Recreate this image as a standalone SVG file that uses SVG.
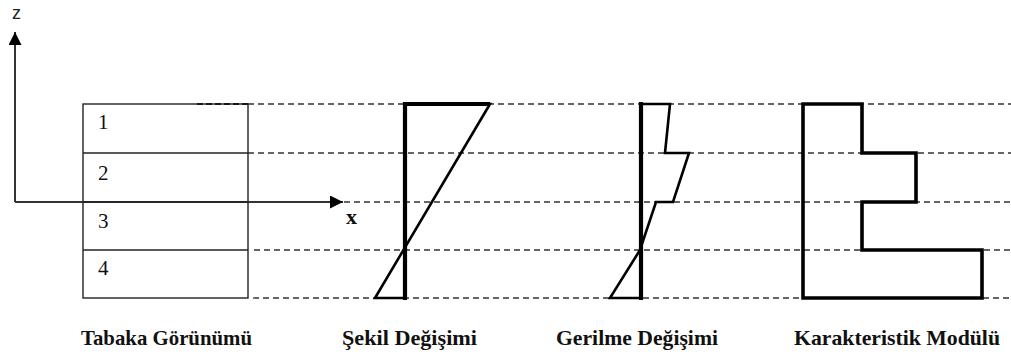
<svg xmlns="http://www.w3.org/2000/svg" width="1011" height="358" viewBox="0 0 1011 358">
<defs>
<style>
.dash{stroke:#333;stroke-width:1.3;stroke-dasharray:6 4;fill:none}
.box{stroke:#222;stroke-width:1.4;fill:none}
.axis{stroke:#333;stroke-width:2;fill:none}
.shape{stroke:#000;stroke-width:2.6;fill:none;stroke-linejoin:miter}
.thick{stroke:#000;stroke-width:4.2;fill:none}
.num{font-family:"Liberation Serif","Times New Roman",serif;font-size:21px;fill:#111}
.lbl{font-family:"Liberation Serif","Times New Roman",serif;font-size:21px;font-weight:bold;fill:#111}
.ax{font-family:"Liberation Sans",Arial,sans-serif;font-size:18px;fill:#222}
</style>
<marker id="ah" viewBox="0 0 10 10" refX="10" refY="5" markerWidth="13" markerHeight="13" markerUnits="userSpaceOnUse" orient="auto">
<path d="M0,0 L10,5 L0,10 Z" fill="#000"/>
</marker>
</defs>
<g id="connectors">
<line class="dash" x1="248" y1="104" x2="1011" y2="104"/>
<line stroke="#000" stroke-width="2.2" stroke-dasharray="6 3" x1="197" y1="104" x2="248" y2="104"/>
<line class="dash" x1="248" y1="153" x2="1011" y2="153"/>
<line class="dash" x1="344" y1="202" x2="1011" y2="202"/>
<line class="dash" x1="254" y1="250" x2="1011" y2="250"/>
<line class="dash" x1="253" y1="298" x2="1011" y2="298"/>
<line class="axis" x1="15" y1="202" x2="15" y2="32" marker-end="url(#ah)"/>
<line class="axis" x1="15" y1="202" x2="343" y2="202" marker-end="url(#ah)"/>
</g>
<g id="axis-labels">
<text class="ax" x="12" y="19">z</text>
<text class="num" x="346" y="224" style="font-weight:bold;font-size:22px">x</text>
</g>
<g id="tabaka">
<rect class="box" x="83" y="104" width="165" height="194"/>
<line class="box" x1="83" y1="153" x2="248" y2="153"/>
<line class="box" x1="83" y1="202" x2="248" y2="202"/>
<line class="box" x1="83" y1="250" x2="248" y2="250"/>
<text class="num" x="98" y="129">1</text>
<text class="num" x="98" y="180">2</text>
<text class="num" x="98" y="228">3</text>
<text class="num" x="98" y="275">4</text>
</g>
<g id="sekil">
<polygon class="shape" points="405,104 490,104 375,298 405,298"/>
<line class="thick" x1="405" y1="102" x2="405" y2="300"/>
<line class="thick" x1="405" y1="104" x2="490" y2="104"/>
</g>
<g id="gerilme">
<polyline class="shape" points="640,104 670,104 665,153 689,153 673,202 656,202 640,250 610,298 640,298"/>
<line class="thick" x1="641" y1="102" x2="641" y2="300"/>
</g>
<g id="karakteristik">
<polygon class="shape" style="stroke-width:3.6" points="803,104 862,104 862,153 916,153 916,202 862,202 862,250 982,250 982,298 803,298"/>
</g>
<g id="labels">
<text class="lbl" x="81" y="345" textLength="171" lengthAdjust="spacingAndGlyphs">Tabaka Görünümü</text>
<text class="lbl" x="342" y="345" textLength="135" lengthAdjust="spacingAndGlyphs">Şekil Değişimi</text>
<text class="lbl" x="556" y="345" textLength="162" lengthAdjust="spacingAndGlyphs">Gerilme Değişimi</text>
<text class="lbl" x="794" y="345" textLength="206" lengthAdjust="spacingAndGlyphs">Karakteristik Modülü</text>
</g>
</svg>
